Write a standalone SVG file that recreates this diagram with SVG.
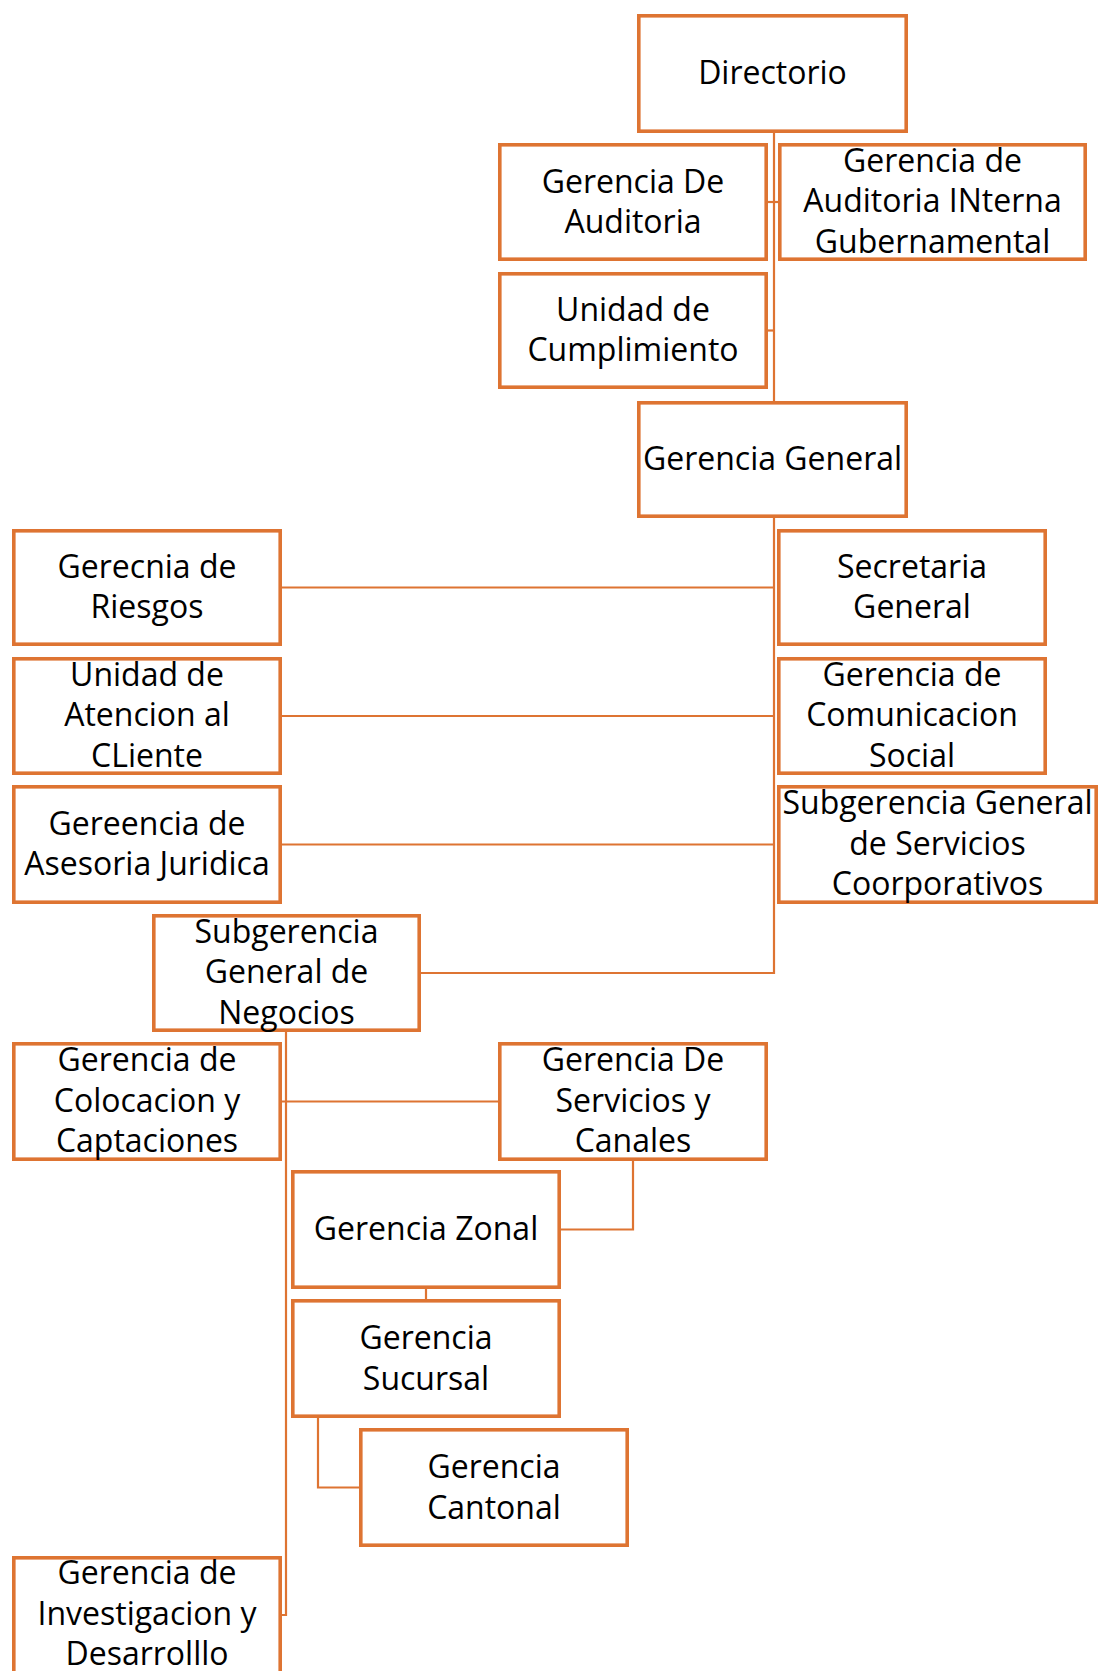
<svg xmlns="http://www.w3.org/2000/svg" width="1099" height="1671" viewBox="0 0 1099 1671">
<style>
.box{fill:#ffffff;stroke:#DE7432;stroke-width:3.6}
.t{font-family:"Open Sans","Noto Sans","Liberation Sans",sans-serif;font-size:32px;fill:#000000;text-anchor:middle}
.c{fill:none;stroke:#DE7432;stroke-width:2.2}
</style>
<rect width="1099" height="1671" fill="#ffffff"/>
<g id="connectors">
<path class="c" d="M774,133 V401"/>
<path class="c" d="M768,202 H778"/>
<path class="c" d="M768,330.5 H774"/>
<path class="c" d="M774,518 V973 H421"/>
<path class="c" d="M282,587.5 H774"/>
<path class="c" d="M282,716 H774"/>
<path class="c" d="M282,844.5 H774"/>
<path class="c" d="M286,1032 V1615 H282"/>
<path class="c" d="M282,1101.5 H498"/>
<path class="c" d="M633,1161 V1229.5 H561"/>
<path class="c" d="M426,1289 V1299"/>
<path class="c" d="M318,1418 V1487.5 H359"/>
</g>
<g id="n1"><rect class="box" x="638.8" y="15.8" width="267.4" height="115.4"/><text class="t" x="772.5" y="84">Directorio</text></g>
<g id="n2"><rect class="box" x="499.8" y="144.8" width="266.4" height="114.4"/><text class="t" x="633" y="192.5">Gerencia De</text><text class="t" x="633" y="233">Auditoria</text></g>
<g id="n3"><rect class="box" x="779.8" y="144.8" width="305.4" height="114.4"/><text class="t" x="932.5" y="171.5">Gerencia de</text><text class="t" x="932.5" y="212">Auditoria INterna</text><text class="t" x="932.5" y="252.5">Gubernamental</text></g>
<g id="n4"><rect class="box" x="499.8" y="273.8" width="266.4" height="113.4"/><text class="t" x="633" y="320.5">Unidad de</text><text class="t" x="633" y="361">Cumplimiento</text></g>
<g id="n5"><rect class="box" x="638.8" y="402.8" width="267.4" height="113.4"/><text class="t" x="772.5" y="470">Gerencia General</text></g>
<g id="n6"><rect class="box" x="13.8" y="530.8" width="266.4" height="113.4"/><text class="t" x="147" y="577.5">Gerecnia de</text><text class="t" x="147" y="618">Riesgos</text></g>
<g id="n7"><rect class="box" x="778.8" y="530.8" width="266.4" height="113.4"/><text class="t" x="912" y="577.5">Secretaria</text><text class="t" x="912" y="618">General</text></g>
<g id="n8"><rect class="box" x="13.8" y="658.8" width="266.4" height="114.4"/><text class="t" x="147" y="685.5">Unidad de</text><text class="t" x="147" y="726">Atencion al</text><text class="t" x="147" y="766.5">CLiente</text></g>
<g id="n9"><rect class="box" x="778.8" y="658.8" width="266.4" height="114.4"/><text class="t" x="912" y="685.5">Gerencia de</text><text class="t" x="912" y="726">Comunicacion</text><text class="t" x="912" y="766.5">Social</text></g>
<g id="n10"><rect class="box" x="13.8" y="786.8" width="266.4" height="115.4"/><text class="t" x="147" y="834.5">Gereencia de</text><text class="t" x="147" y="875">Asesoria Juridica</text></g>
<g id="n11"><rect class="box" x="778.8" y="786.8" width="317.4" height="115.4"/><text class="t" x="937.5" y="814">Subgerencia General</text><text class="t" x="937.5" y="854.5">de Servicios</text><text class="t" x="937.5" y="895">Coorporativos</text></g>
<g id="n12"><rect class="box" x="153.8" y="915.8" width="265.4" height="114.4"/><text class="t" x="286.5" y="942.5">Subgerencia</text><text class="t" x="286.5" y="983">General de</text><text class="t" x="286.5" y="1023.5">Negocios</text></g>
<g id="n13"><rect class="box" x="13.8" y="1043.8" width="266.4" height="115.4"/><text class="t" x="147" y="1071">Gerencia de</text><text class="t" x="147" y="1111.5">Colocacion y</text><text class="t" x="147" y="1152">Captaciones</text></g>
<g id="n14"><rect class="box" x="499.8" y="1043.8" width="266.4" height="115.4"/><text class="t" x="633" y="1071">Gerencia De</text><text class="t" x="633" y="1111.5">Servicios y</text><text class="t" x="633" y="1152">Canales</text></g>
<g id="n15"><rect class="box" x="292.8" y="1171.8" width="266.4" height="115.4"/><text class="t" x="426" y="1240">Gerencia Zonal</text></g>
<g id="n16"><rect class="box" x="292.8" y="1300.8" width="266.4" height="115.4"/><text class="t" x="426" y="1349">Gerencia</text><text class="t" x="426" y="1389.5">Sucursal</text></g>
<g id="n17"><rect class="box" x="360.8" y="1429.8" width="266.4" height="115.4"/><text class="t" x="494" y="1478">Gerencia</text><text class="t" x="494" y="1518.5">Cantonal</text></g>
<g id="n18"><rect class="box" x="13.8" y="1557.8" width="266.4" height="115.4"/><text class="t" x="147" y="1584">Gerencia de</text><text class="t" x="147" y="1624.5">Investigacion y</text><text class="t" x="147" y="1665">Desarrolllo</text></g>
</svg>
